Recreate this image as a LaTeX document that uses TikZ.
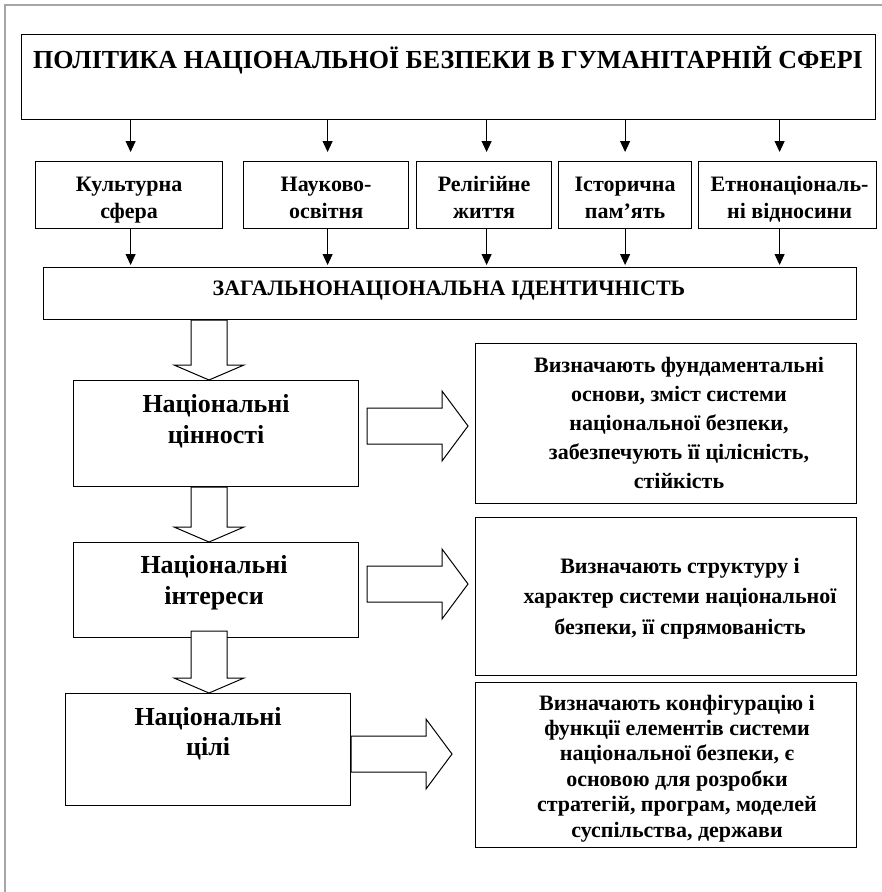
\documentclass[tikz,border=0pt]{standalone}
\usepackage{fontspec}
\setmainfont{Liberation Serif}
\usetikzlibrary{arrows.meta, positioning, calc}

\newcommand{\boldsz}[2]{\fontsize{#1}{#2}\selectfont\bfseries}

% hollow block arrows, one pointing down and one pointing right
\newcommand{\downblock}[4]{%
  \draw[hollow] let \p1=(#1 |- #2.south), \p2=(#1 |- #3.north) in
    ($(\p1)+(-18,-#4)$) -- ($(\p2)+(-18,-15)$) -- ($(\p2)+(-35,-15)$) -- (\p2)
    -- ($(\p2)+(35,-15)$) -- ($(\p2)+(18,-15)$) -- ($(\p1)+(18,-#4)$) -- cycle;}
\newcommand{\rightblock}[5]{%
  \draw[hollow] let \p1=(#2.east |- #1), \p2=(#3.west |- #1) in
    ($(\p1)+(#4,-18)$) -- ($(\p2)+(-#5-26,-18)$) -- ($(\p2)+(-#5-26,-35)$) -- ($(\p2)+(-#5,0)$)
    -- ($(\p2)+(-#5-26,35)$) -- ($(\p2)+(-#5-26,18)$) -- ($(\p1)+(#4,18)$) -- cycle;}

\begin{document}
\begin{tikzpicture}[
  x=1pt, y=-1pt,
  box/.style={rectangle, draw, line width=1.2pt, inner sep=0pt, anchor=north west},
  txt/.style={align=center, anchor=base, inner sep=0pt},
  arr/.style={-{Triangle[width=10pt, length=11pt]}, line width=1pt},
  hollow/.style={draw, fill=white, line width=1pt, line join=miter}
]
  \useasboundingbox (0,0) rectangle (882,892);
  \draw[gray!70, line width=2pt] (5,892) -- (5,5) -- (882,5);

  % boxes
  \node[box, minimum width=854, minimum height=85] (policy) at (21,34) {};
  \node[box, minimum width=187, minimum height=67] (m1) at (35,161) {};
  \node[box, minimum width=165, minimum height=67] (m2) at (243,161) {};
  \node[box, minimum width=135, minimum height=67] (m3) at (416,161) {};
  \node[box, minimum width=133, minimum height=67] (m4) at (558,161) {};
  \node[box, minimum width=178, minimum height=67] (m5) at (698,161) {};
  \node[box, minimum width=813, minimum height=52] (ident) at (43,267) {};
  \node[box, minimum width=285, minimum height=106] (values) at (73,380) {};
  \node[box, minimum width=285, minimum height=95] (interests) at (73,542) {};
  \node[box, minimum width=285, minimum height=112] (goals) at (65,693) {};
  \node[box, minimum width=381, minimum height=160] (rvalues) at (475,343) {};
  \node[box, minimum width=381, minimum height=158] (rinterests) at (475,517) {};
  \node[box, minimum width=381, minimum height=165] (rgoals) at (475,682) {};

  % texts (anchor base = last line)
  \node[txt, font=\boldsz{26}{30}] (policytxt) at (448,68)
    {ПОЛІТИКА НАЦІОНАЛЬНОЇ БЕЗПЕКИ В ГУМАНІТАРНІЙ СФЕРІ};
  \node[txt, font=\boldsz{22}{27}] (m1txt) at ($(m1.north)+(0,57)$) {Культурна\\сфера};
  \node[txt, font=\boldsz{22}{27}] (m2txt) at ($(m2.north)+(0,57)$) {Науково-\\освітня};
  \node[txt, font=\boldsz{22}{27}] (m3txt) at ($(m3.north)+(0,57)$) {Релігійне\\життя};
  \node[txt, font=\boldsz{22}{27}] (m4txt) at ($(m4.north)+(0,57)$) {Історична\\пам’ять};
  \node[txt, font=\boldsz{22}{27}] (m5txt) at ($(m5.north)+(2,57)$) {Етнонаціональ-\\ні відносини};
  \node[txt, font=\boldsz{22}{27}] (identtxt) at (449,295) {ЗАГАЛЬНОНАЦІОНАЛЬНА ІДЕНТИЧНІСТЬ};
  \node[txt, font=\boldsz{26}{31}] (valuestxt) at ($(values.north)+(0,63)$) {Національні\\цінності};
  \node[txt, font=\boldsz{26}{31}] (intereststxt) at ($(interests.north)+(-2,62)$) {Національні\\інтереси};
  \node[txt, font=\boldsz{26}{30}] (goalstxt) at ($(goals.north)+(0,62)$) {Національні\\цілі};
  \node[txt, font=\boldsz{22}{29}] (rvaluestxt) at (679,488)
    {Визначають фундаментальні\\основи, зміст системи\\національної безпеки,\\забезпечують її цілісність,\\стійкість};
  \node[txt, font=\boldsz{22}{30.5}] (rintereststxt) at (680,634)
    {Визначають структуру і\\характер системи національної\\безпеки, її спрямованість};
  \node[txt, font=\boldsz{22}{25.4}] (rgoalstxt) at (677,837)
    {Визначають конфігурацію і\\функції елементів системи\\національної безпеки, є\\основою для розробки\\стратегій, програм, моделей\\суспільства, держави};

  % thin arrows
  \foreach \m/\dx in {m1/1.5, m2/1.5, m3/2.5, m4/0, m5/-8} {
    \draw[arr, shorten >=9pt] ($(policy.south -| \m.north)+(\dx,0)$) -- ($(\m.north)+(\dx,0)$);
    \draw[arr, shorten >=2pt] ($(\m.south)+(\dx,0)$) -- ($(ident.north -| \m.south)+(\dx,0)$);
  }

  % block arrows
  \coordinate (vaxis) at (209,0);
  \coordinate (h1) at (0,426);
  \coordinate (h2) at (0,584);
  \coordinate (h3) at (0,754);
  \downblock{vaxis}{ident}{values}{0}
  \downblock{vaxis}{values}{interests}{0}
  \downblock{vaxis}{interests}{goals}{7}
  \rightblock{h1}{values}{rvalues}{8}{7}
  \rightblock{h2}{interests}{rinterests}{8}{7}
  \rightblock{h3}{goals}{rgoals}{0}{23}
\end{tikzpicture}
\end{document}
